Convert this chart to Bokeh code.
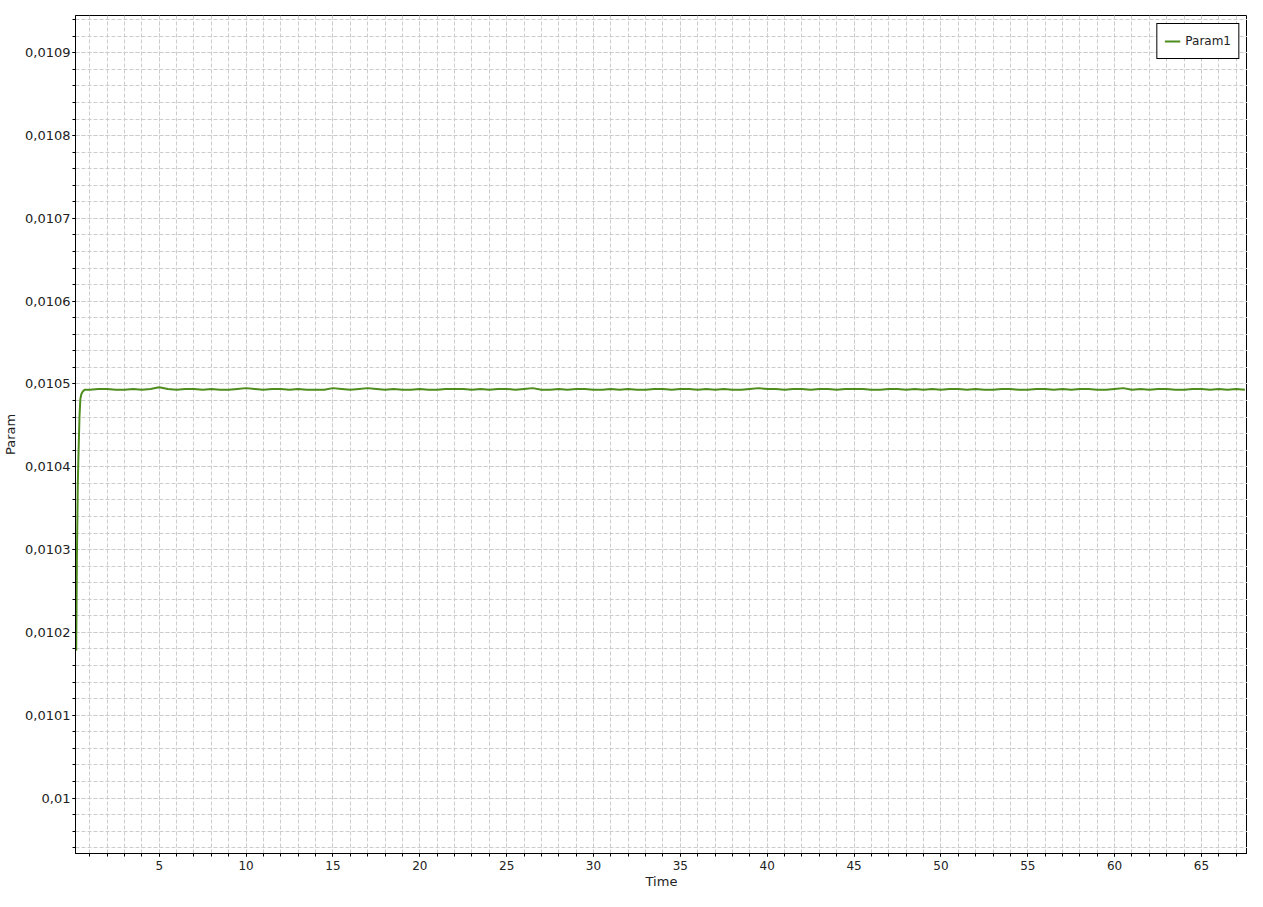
from bokeh.embed import file_html
from bokeh.models import (CustomJSTickFormatter, Legend, LegendItem, Range1d,
                          SingleIntervalTicker)
from bokeh.plotting import figure
from bokeh.resources import INLINE

# start of the run (fast rise)
time = [0.22, 0.24, 0.26, 0.29, 0.31, 0.34, 0.37, 0.41, 0.46, 0.52, 0.60,
        0.70, 0.85,
        1.0, 1.5, 2.0, 2.5, 3.0, 3.5, 4.0, 4.5, 5.0, 5.5,
        6.0, 6.5, 7.0, 7.5, 8.0, 8.5, 9.0, 9.5, 10.0, 10.5,
        11.0, 11.5, 12.0, 12.5, 13.0, 13.5, 14.0, 14.5, 15.0, 15.5,
        16.0, 16.5, 17.0, 17.5, 18.0, 18.5, 19.0, 19.5, 20.0, 20.5,
        21.0, 21.5, 22.0, 22.5, 23.0, 23.5, 24.0, 24.5, 25.0, 25.5,
        26.0, 26.5, 27.0, 27.5, 28.0, 28.5, 29.0, 29.5, 30.0, 30.5,
        31.0, 31.5, 32.0, 32.5, 33.0, 33.5, 34.0, 34.5, 35.0, 35.5,
        36.0, 36.5, 37.0, 37.5, 38.0, 38.5, 39.0, 39.5, 40.0, 40.5,
        41.0, 41.5, 42.0, 42.5, 43.0, 43.5, 44.0, 44.5, 45.0, 45.5,
        46.0, 46.5, 47.0, 47.5, 48.0, 48.5, 49.0, 49.5, 50.0, 50.5,
        51.0, 51.5, 52.0, 52.5, 53.0, 53.5, 54.0, 54.5, 55.0, 55.5,
        56.0, 56.5, 57.0, 57.5, 58.0, 58.5, 59.0, 59.5, 60.0, 60.5,
        61.0, 61.5, 62.0, 62.5, 63.0, 63.5, 64.0, 64.5, 65.0, 65.5,
        66.0, 66.5, 67.0, 67.5]

param1 = [0.010178, 0.010230, 0.010290, 0.010340, 0.010377, 0.010405,
          0.010429, 0.010461, 0.010482, 0.010488, 0.010491, 0.010493,
          0.010493,
          0.010493, 0.010494, 0.010494, 0.010493, 0.010493, 0.010494, 0.010493, 0.010494, 0.010496, 0.010494,
          0.010493, 0.010494, 0.010494, 0.010493, 0.010494, 0.010493, 0.010493, 0.010494, 0.010495, 0.010494,
          0.010493, 0.010494, 0.010494, 0.010493, 0.010494, 0.010493, 0.010493, 0.010493, 0.010495, 0.010494,
          0.010493, 0.010494, 0.010495, 0.010494, 0.010493, 0.010494, 0.010493, 0.010493, 0.010494, 0.010493,
          0.010493, 0.010494, 0.010494, 0.010494, 0.010493, 0.010494, 0.010493, 0.010494, 0.010494, 0.010493,
          0.010494, 0.010495, 0.010493, 0.010493, 0.010494, 0.010493, 0.010494, 0.010494, 0.010493, 0.010493,
          0.010494, 0.010493, 0.010494, 0.010493, 0.010493, 0.010494, 0.010494, 0.010493, 0.010494, 0.010494,
          0.010493, 0.010494, 0.010493, 0.010494, 0.010493, 0.010493, 0.010494, 0.010495, 0.010494, 0.010494,
          0.010493, 0.010494, 0.010494, 0.010493, 0.010494, 0.010494, 0.010493, 0.010494, 0.010494, 0.010494,
          0.010493, 0.010493, 0.010494, 0.010494, 0.010493, 0.010494, 0.010493, 0.010494, 0.010493, 0.010494,
          0.010494, 0.010493, 0.010494, 0.010493, 0.010493, 0.010494, 0.010494, 0.010493, 0.010493, 0.010494,
          0.010494, 0.010493, 0.010494, 0.010493, 0.010494, 0.010494, 0.010493, 0.010493, 0.010494, 0.010495,
          0.010493, 0.010494, 0.010493, 0.010494, 0.010494, 0.010493, 0.010493, 0.010494, 0.010494, 0.010493,
          0.010494, 0.010493, 0.010494, 0.010493]

FONT = "DejaVu Sans"

p = figure(width=1247, height=891, output_backend="svg", toolbar_location=None,
           x_range=Range1d(0.18, 67.65), y_range=Range1d(0.009933, 0.010945),
           min_border_left=73, min_border_right=0, min_border_top=15,
           min_border_bottom=30)

p.outline_line_color = "black"
p.outline_line_alpha = 1.0
p.background_fill_color = "white"

line = p.line(time, param1, line_color="#4e8c1e", line_width=2)

p.xaxis.ticker = SingleIntervalTicker(interval=5, num_minor_ticks=5)
p.yaxis.ticker = SingleIntervalTicker(interval=0.0001, num_minor_ticks=5)
p.yaxis.formatter = CustomJSTickFormatter(
    code="return (Math.round(tick * 10000) / 10000).toString().replace('.', ',');")

for ax in (p.xaxis[0], p.yaxis[0]):
    ax.axis_line_color = "black"
    ax.major_tick_line_color = "black"
    ax.minor_tick_line_color = "black"
    ax.major_tick_in = 0
    ax.major_tick_out = 3
    ax.minor_tick_in = 0
    ax.minor_tick_out = 3
    ax.major_label_text_font = FONT
    ax.major_label_text_color = "#222222"
    ax.axis_label_text_font = FONT
    ax.axis_label_text_font_style = "normal"
    ax.axis_label_text_color = "#222222"
    ax.axis_label_text_font_size = "13px"

p.xaxis.axis_label = "Time"
p.xaxis.major_label_text_font_size = "12px"
p.xaxis.major_label_standoff = 4
p.xaxis.axis_label_standoff = 1

p.yaxis.axis_label = "Param"
p.yaxis.major_label_text_font_size = "13px"
p.yaxis.major_label_standoff = 2
p.yaxis.axis_label_standoff = 4

for g in (p.xgrid[0], p.ygrid[0]):
    g.grid_line_color = "#cccccc"
    g.grid_line_dash = "4 2"
    g.minor_grid_line_color = "#cccccc"
    g.minor_grid_line_dash = "4 2"

legend = Legend(items=[LegendItem(label="Param1", renderers=[line])],
                location="top_right", margin=8, padding=7, spacing=0,
                glyph_width=16, glyph_height=20, label_height=20,
                label_standoff=5,
                label_text_font=FONT, label_text_font_size="12px",
                label_text_color="#222222", border_line_color="black",
                border_line_alpha=1.0, background_fill_color="white",
                background_fill_alpha=1.0)
p.add_layout(legend)

open("out.html", "w").write(file_html(p, INLINE))
